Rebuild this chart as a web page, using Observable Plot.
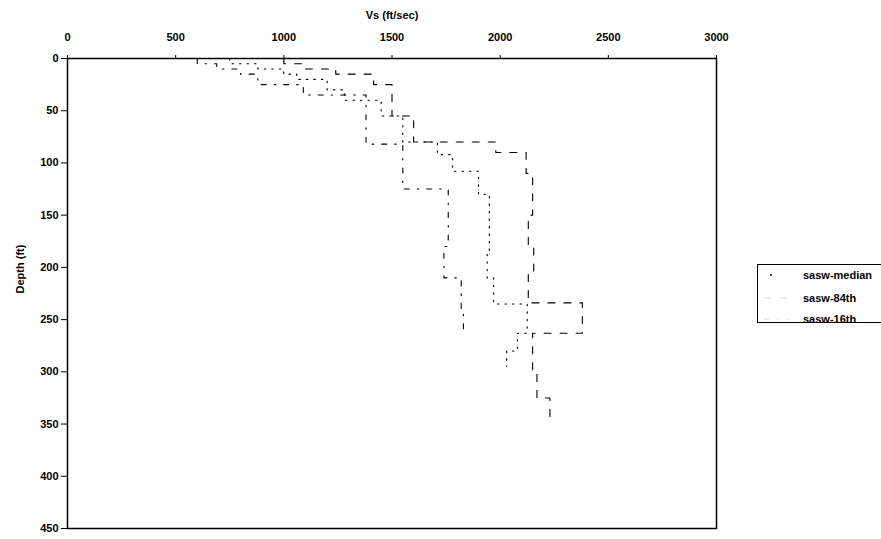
<!DOCTYPE html>
<html>
<head>
<meta charset="utf-8">
<script src="https://cdn.jsdelivr.net/npm/d3@7"></script>
<script src="https://cdn.jsdelivr.net/npm/@observablehq/plot@0.6"></script>
<style>
  html, body { margin: 0; padding: 0; background: #fff; overflow: hidden; }
  #wrap { position: relative; width: 881px; height: 539px; font-family: "Liberation Sans", Arial, sans-serif; }
  #legend { position: absolute; left: 757px; top: 264px; width: 160px; height: 59px; border: 1px solid #000; box-sizing: border-box; }
  .row { position: absolute; left: 0; height: 16px; width: 160px; }
  .row span { position: absolute; left: 45px; top: 0; font-size: 11px; font-weight: bold; color: #000; line-height: 16px; }
  .row svg { position: absolute; left: 4px; top: 0; }
</style>
</head>
<body>
<div id="wrap"><div id="legend"></div></div>
<script>
// Axis ticks
const xTicks = [0, 500, 1000, 1500, 2000, 2500, 3000];
const yTicks = [0, 50, 100, 150, 200, 250, 300, 350, 400, 450];

// Series names
const seriesNames = ["sasw-median", "sasw-84th", "sasw-16th"];

// Layer boundaries (depth, ft) and shear-wave velocities (ft/sec) per layer
const medianDepths = [0, 5, 10, 15, 20, 30, 40, 55, 80, 92, 108, 130, 185, 210, 235, 263, 280, 295];
const medianVs     = [750, 880, 1000, 1060, 1200, 1280, 1450, 1550, 1710, 1780, 1900, 1950, 1940, 1970, 2125, 2080, 2030];

const p84Depths = [0, 5, 10, 15, 25, 55, 80, 90, 110, 150, 180, 205, 234, 263, 300, 325, 345];
const p84Vs     = [1000, 1090, 1240, 1415, 1500, 1600, 1980, 2120, 2150, 2130, 2155, 2130, 2380, 2150, 2170, 2230];

const p16Depths = [0, 5, 10, 15, 25, 35, 82, 125, 180, 210, 240, 265];
const p16Vs     = [600, 690, 800, 880, 1090, 1380, 1550, 1760, 1740, 1820, 1830];

function steps(bounds, vals, name) {
  const pts = [];
  vals.forEach((v, i) => {
    pts.push({v, d: bounds[i], name});
    pts.push({v, d: bounds[i + 1], name});
  });
  return pts;
}

const dashes = {"sasw-median": "1.5,6", "sasw-84th": "7,9", "sasw-16th": "5,8,1.5,8"};
const med = steps(medianDepths, medianVs, seriesNames[0]);
const p84 = steps(p84Depths, p84Vs, seriesNames[1]);
const p16 = steps(p16Depths, p16Vs, seriesNames[2]);

const chart = Plot.plot({
  width: 881,
  height: 539,
  marginLeft: 67,
  marginRight: 165,
  marginTop: 58,
  marginBottom: 11,
  x: {domain: [0, 3000], axis: null},
  y: {domain: [0, 450], reverse: true, axis: null},
  style: {fontFamily: "'Liberation Sans', Arial, sans-serif", fontSize: "11px", fontWeight: "bold", color: "#000", background: "#fff"},
  marks: [
    Plot.line(med, {x: "v", y: "d", stroke: "#000", strokeWidth: 1.1, strokeDasharray: dashes["sasw-median"]}),
    Plot.line(p84, {x: "v", y: "d", stroke: "#000", strokeWidth: 1.1, strokeDasharray: dashes["sasw-84th"]}),
    Plot.line(p16, {x: "v", y: "d", stroke: "#000", strokeWidth: 1.1, strokeDasharray: dashes["sasw-16th"]}),
    Plot.frame({stroke: "#000", strokeWidth: 1.5}),
    Plot.axisX({anchor: "top", ticks: xTicks, tickFormat: d => String(d), tickSize: 4, tickPadding: 14, label: null, fontWeight: "bold", fontSize: 11}),
    Plot.axisY({anchor: "left", ticks: yTicks, tickFormat: d => String(d), tickSize: 6, tickPadding: 3, label: null, fontWeight: "bold", fontSize: 11}),
    Plot.text(["Vs (ft/sec)"], {frameAnchor: "top", dy: -47, fontWeight: "bold", fontSize: 11}),
    Plot.text(["Depth (ft)"], {frameAnchor: "left", dx: -47, rotate: -90, fontWeight: "bold", fontSize: 11})
  ]
});
document.getElementById("wrap").prepend(chart);
chart.style.position = "absolute";
chart.style.left = "0";
chart.style.top = "0";

// Legend
const legend = document.getElementById("legend");
const rowTops = [2, 25, 46];
seriesNames.forEach((name, i) => {
  const row = document.createElement("div");
  row.className = "row";
  row.style.top = rowTops[i] + "px";
  const sample = name === "sasw-median"
    ? `<svg width="30" height="16"><circle cx="9" cy="8" r="0.9" fill="#000"/></svg>`
    : `<svg width="30" height="16"><line x1="2" x2="28" y1="8" y2="8" stroke="#000" stroke-width="1" stroke-dasharray="${dashes[name]}" opacity="0.15"/></svg>`;
  row.innerHTML = sample + `<span>${name}</span>`;
  legend.appendChild(row);
});
</script>
</body>
</html>
